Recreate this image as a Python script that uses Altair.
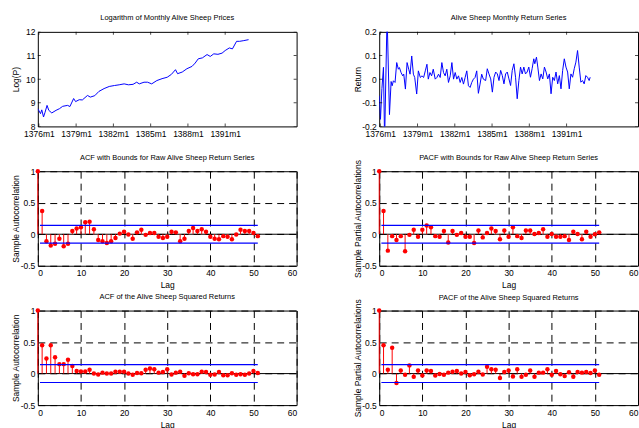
import altair as alt
import pandas as pd

# ---------------- data ----------------
price_idx = [0, 2.6, 3.8, 5.5, 7, 8.9, 10.6, 13.5, 17.6, 20.9, 24, 28.8, 31, 34.6, 36.5,
             40, 43, 48, 50.7, 55, 59, 64, 69, 74, 78.6, 83.4, 87.5, 92, 95.5, 98,
             102.6, 106, 110, 115, 120, 125, 129, 133, 135, 139.5, 144, 149, 152, 155,
             159, 163.5, 166.6, 170, 174, 178, 181, 185, 188, 192, 195, 199, 203.6]
price_val = [8.75, 8.54, 8.70, 8.40, 8.60, 8.89, 8.68, 8.57, 8.68, 8.75, 8.85, 8.89, 8.84, 9.18, 9.05,
             9.13, 9.12, 9.31, 9.24, 9.30, 9.48, 9.60, 9.69, 9.73, 9.76, 9.80, 9.76, 9.78, 9.87, 9.80,
             9.87, 9.87, 9.80, 9.94, 10.02, 10.08, 10.20, 10.40, 10.23, 10.30, 10.44, 10.54, 10.68, 10.86,
             10.90, 11.04, 10.96, 11.07, 11.05, 11.10, 11.21, 11.32, 11.28, 11.60, 11.60, 11.63, 11.67]

ret_idx = [0, 1.2, 2.6, 4.1, 5.2, 7.6, 9.9, 11.5, 12.5, 13.7, 15.3, 16.9, 18.5, 19.5, 21.1, 22.7,
           23.7, 25.3, 26.9, 28.5, 29.8, 31.4, 33.0, 34.3, 36.2, 37.8, 39.7, 41.3, 42.9, 44.5,
           46.1, 47.4, 49.0, 50.6, 52.2, 54.1, 55.7, 57.3, 58.9, 60.5, 62.1, 63.7, 65.3, 66.9,
           68.6, 70.2, 71.8, 73.4, 75.0, 76.6, 78.2, 79.8, 81.4, 83.0, 84.6, 86.2, 87.8, 89.4,
           91.0, 92.6, 94.2, 95.8, 97.4, 99.0, 100.6, 102.8, 104.4, 106.0, 107.7, 109.3, 110.9,
           112.5, 114.1, 115.7, 117.3, 118.9, 120.5, 122.1, 123.7, 125.3, 126.9, 128.5, 130.1,
           131.7, 133.3, 134.9, 136.5, 138.1, 139.7, 141.3, 142.9, 144.5, 146.1, 147.7, 149.3,
           150.3, 151.9, 153.2, 154.8, 156.4, 158.0, 159.6, 161.2, 162.8, 164.4, 166.0, 167.6,
           169.2, 170.8, 172.4, 174.0, 175.6, 177.2, 178.8, 180.4, 182.0, 183.6, 185.2, 186.8,
           188.4, 190.0, 191.6, 193.2, 194.8, 196.4, 198.0, 199.6, 201.2, 202.8, 203.8]
ret_val = [-0.07, -0.17, -0.04, 0.05, -0.26, 0.27, -0.15, -0.01, -0.028, -0.007, -0.014, 0.070,
           0.042, 0.049, 0.028, 0.014, 0.021, -0.042, 0.070, 0.042, 0.021, 0.098, 0.021, 0.007,
           -0.063, 0.035, 0.007, 0.014, 0.007, 0.035, 0.063, 0.0, 0.028, 0.014, 0.042, 0.0,
           0.007, 0.021, 0.007, 0.070, 0.028, 0.014, 0.042, -0.014, 0.014, 0.070, 0.0, 0.028,
           0.0, 0.014, -0.014, 0.007, -0.021, 0.007, 0.035, -0.028, -0.035, -0.014, 0.0, 0.007,
           0.035, -0.06, -0.021, 0.021, 0.0, -0.006, 0.044, 0.022, 0.001, -0.055, 0.008, 0.030,
           0.022, -0.006, 0.037, 0.015, -0.020, 0.022, 0.030, 0.001, -0.027, 0.037, 0.065, 0.008,
           -0.083, -0.006, 0.051, 0.022, 0.051, 0.022, 0.030, 0.051, 0.008, 0.044, 0.086, 0.065,
           0.093, 0.051, -0.006, 0.022, 0.001, 0.051, 0.030, 0.001, 0.022, -0.062, 0.008, -0.006,
           0.030, -0.020, 0.015, -0.041, 0.037, 0.086, 0.051, 0.030, -0.041, 0.022, 0.008, 0.044,
           0.072, 0.121, 0.051, -0.013, -0.006, -0.020, 0.015, 0.008, -0.006, 0.008]

lags = list(range(52))
acf_raw = [1, 0.37, -0.11, -0.18, -0.15, -0.07, -0.19, -0.15, 0.05, 0.09, 0.11, 0.19, 0.20,
           0.08, -0.09, -0.11, -0.14, -0.11, -0.06, 0.01, 0.04, -0.005, -0.07, 0.03, 0.07,
           -0.01, 0.02, 0.02, -0.04, -0.06, -0.04, 0.04, 0.03, -0.11, -0.07, 0.05, 0.10, 0.05,
           0.08, 0.04, -0.04, -0.07, -0.08, -0.03, -0.04, -0.08, -0.005, 0.07, 0.05, 0.05,
           0.02, -0.03]
pacf_raw = [1, 0.37, -0.26, -0.03, -0.09, -0.03, -0.27, -0.01, 0.07, -0.04, 0.07, 0.14, 0.11,
            -0.03, -0.04, 0.05, -0.13, 0.05, -0.01, 0.02, -0.04, -0.04, -0.14, 0.06, -0.05,
            0.02, 0.09, 0.05, -0.08, 0.06, -0.04, 0.11, -0.03, -0.06, 0.06, 0.06, 0.005, 0.02,
            0.08, -0.04, 0.005, -0.04, -0.04, -0.03, -0.09, 0.04, 0.005, -0.08, 0.04, -0.04,
            0.0, 0.03]
acf_sq = [1, 0.45, 0.24, 0.45, 0.26, 0.15, 0.15, 0.22, 0.12, 0.04, 0.035, 0.035, 0.06, 0.0,
          -0.015, 0.015, 0.0, 0.0, 0.03, 0.03, 0.03, 0.0, -0.02, 0.01, 0.005, 0.06, 0.08, 0.07,
          0.015, 0.025, 0.07, -0.015, 0.015, 0.03, -0.035, 0.005, -0.01, -0.01, 0.03, 0.025,
          -0.02, -0.015, 0.025, -0.025, -0.025, 0.005, -0.02, -0.01, -0.02, 0.0, 0.04, 0.01]
pacf_sq = [1, 0.45, 0.06, 0.41, -0.15, 0.05, -0.02, 0.13, -0.05, 0.05, -0.03, 0.05, 0.04,
           -0.03, -0.005, -0.02, 0.015, 0.03, 0.04, 0.0, 0.025, -0.025, -0.01, 0.03, -0.015,
           0.11, 0.07, 0.06, -0.07, 0.025, 0.05, -0.045, 0.07, -0.05, -0.02, 0.05, -0.05, 0.015,
           0.015, 0.07, -0.02, 0.04, -0.01, -0.04, 0.02, -0.05, 0.025, 0.015, 0.025, 0.01,
           0.05, -0.02]

bound = 0.141
bound_from = 0.5
bound_to = 51

date_ticks = [1, 37, 73, 109, 145, 181]
date_labels = ["1376m1", "1379m1", "1382m1", "1385m1", "1388m1", "1391m1"]

# ---------------- styling ----------------
FONT = "Liberation Sans"
BLUE = "#0000FF"
RED = "#FF0000"
W, H = 260, 95
TS_DOMAIN = [0, 250]

date_expr = " : ".join(f"datum.value == {p} ? '{l}'" for p, l in zip(date_ticks, date_labels)) + " : ''"


def ts_panel(idx, vals, ydom, yticks, ytitle, title):
    df = pd.DataFrame({"t": idx, "v": vals})
    x = alt.X("t:Q", scale=alt.Scale(domain=TS_DOMAIN, nice=False, zero=False),
              axis=alt.Axis(values=date_ticks, labelExpr=date_expr, title=None, grid=False))
    y = alt.Y("v:Q", scale=alt.Scale(domain=ydom, nice=False, zero=False),
              axis=alt.Axis(values=yticks, labelExpr="datum.value", title=ytitle, grid=False,
                            titleX=-22, titleBaseline="middle"))
    line = alt.Chart(df).mark_line(color=BLUE, strokeWidth=1, clip=True).encode(x=x, y=y)
    n = len(date_ticks)
    xt = pd.DataFrame({"t": date_ticks * 2, "v": [ydom[0]] * n + [ydom[1]] * n})
    xtick = alt.Chart(xt).mark_tick(orient="vertical", size=6, thickness=1, color="black",
                                    clip=True).encode(x=x, y=y)
    m = len(yticks)
    yt = pd.DataFrame({"t": [TS_DOMAIN[0]] * m + [TS_DOMAIN[1]] * m, "v": yticks * 2})
    ytick = alt.Chart(yt).mark_tick(orient="horizontal", size=6, thickness=1, color="black",
                                    clip=True).encode(x=x, y=y)
    return alt.layer(line, xtick, ytick).properties(width=W, height=H, title=title)


def acf_panel(vals, ytitle, title, title_dy=0):
    df = pd.DataFrame({"lag": lags, "v": vals, "z": [0] * len(lags)})
    grid_kw = dict(grid=True, gridColor="black", gridDash=[7, 5], gridWidth=1, gridOpacity=1)
    x = alt.X("lag:Q", scale=alt.Scale(domain=[0, 60], nice=False),
              axis=alt.Axis(values=list(range(0, 61, 10)), title="Lag", titleY=19,
                            titleBaseline="middle", **grid_kw))
    y = alt.Y("v:Q", scale=alt.Scale(domain=[-0.5, 1], nice=False),
              axis=alt.Axis(values=[-0.5, 0, 0.5, 1], labelExpr="datum.value", title=ytitle,
                            titleX=-22, titleBaseline="middle", **grid_kw))
    zero = alt.Chart(pd.DataFrame({"v": [0]})).mark_rule(color="black", strokeWidth=1).encode(y=y)
    base = alt.Chart(df)
    stems = base.mark_rule(color=RED, strokeWidth=1).encode(x=x, y=y, y2="z:Q")
    dots = base.mark_circle(color=RED, size=20, opacity=1).encode(x=x, y=y)
    bdf = pd.DataFrame({"lag": [bound_from, bound_from], "lag2": [bound_to, bound_to],
                        "v": [bound, -bound]})
    bnd = alt.Chart(bdf).mark_rule(color=BLUE, strokeWidth=1.2).encode(x=x, x2="lag2:Q", y=y)
    ttl = alt.TitleParams(title, dy=title_dy) if title_dy else title
    return alt.layer(zero, stems, dots, bnd).properties(width=W, height=H, title=ttl)


p1 = ts_panel(price_idx, price_val, [8, 12], [8, 9, 10, 11, 12], "Log(P)",
              "Logarithm of Monthly Alive Sheep Prices")
p2 = ts_panel(ret_idx, ret_val, [-0.2, 0.2], [-0.2, -0.1, 0, 0.1, 0.2], "Return",
              "Alive Sheep Monthly Return Series")
p3 = acf_panel(acf_raw, "Sample  Autocorrelation", "ACF with Bounds for Raw Alive Sheep Return Series")
p4 = acf_panel(pacf_raw, "Sample  Partial  Autocorrelations",
               "PACF with Bounds for Raw Alive Sheep Return Series", title_dy=11)
p5 = acf_panel(acf_sq, "Sample  Autocorrelation", "ACF of the Alive Sheep Squared Returns")
p6 = acf_panel(pacf_sq, "Sample  Partial  Autocorrelations",
               "PACF of the Alive Sheep Squared Returns", title_dy=11)

chart = alt.concat(p1, p2, p3, p4, p5, p6, columns=2,
                   spacing={"row": 45, "column": 83}, bounds="flush").properties(
    padding={"left": 11, "top": 13, "right": 0, "bottom": 0}, background="white"
).configure_view(stroke="black", strokeWidth=1).configure_axis(
    labelFont=FONT, labelFontSize=8.5, labelColor="black", labelPadding=3,
    titleFont=FONT, titleFontSize=8.5, titleFontWeight="normal", titleColor="black",
    domain=False, ticks=False, tickSize=0
).configure_title(
    font=FONT, fontSize=7.5, fontWeight="normal", color="black", offset=6, anchor="middle"
)

chart.save("out.html", embed_options={"renderer": "svg", "actions": False})
